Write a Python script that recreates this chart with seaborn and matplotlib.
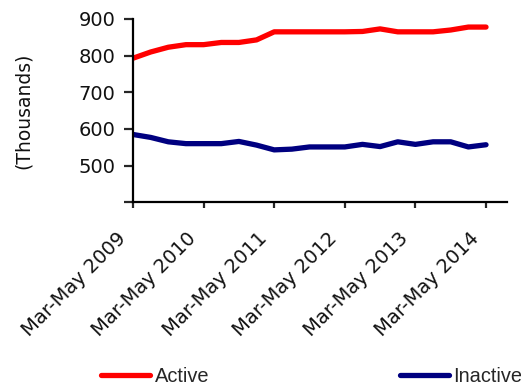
import numpy as np
import pandas as pd
import matplotlib
matplotlib.use("Agg")
import matplotlib.pyplot as plt
import matplotlib.transforms as mtransforms
import seaborn as sns

# Rolling quarters, Mar-May 2009 to Mar-May 2014 (thousands)
periods = [
    "Mar-May 2009", "Jun-Aug 2009", "Sep-Nov 2009", "Dec-Feb 2010",
    "Mar-May 2010", "Jun-Aug 2010", "Sep-Nov 2010", "Dec-Feb 2011",
    "Mar-May 2011", "Jun-Aug 2011", "Sep-Nov 2011", "Dec-Feb 2012",
    "Mar-May 2012", "Jun-Aug 2012", "Sep-Nov 2012", "Dec-Feb 2013",
    "Mar-May 2013", "Jun-Aug 2013", "Sep-Nov 2013", "Dec-Feb 2014",
    "Mar-May 2014",
]
active = [793, 810, 823, 830, 830, 836, 836, 843, 865, 865, 865, 865,
          865, 866, 873, 865, 865, 865, 870, 878, 878]
inactive = [585, 577, 565, 560, 560, 560, 566, 556, 543, 545, 551, 551,
            551, 558, 552, 565, 558, 565, 565, 551, 557]
tick_labels = ["Mar-May 2009", "Mar-May 2010", "Mar-May 2011",
               "Mar-May 2012", "Mar-May 2013", "Mar-May 2014"]
y_ticks = [400, 500, 600, 700, 800, 900]
y_tick_labels = ["", "500", "600", "700", "800", "900"]

sns.set_style("white")
plt.rcParams["font.family"] = ["DejaVu Sans"]

idx = np.arange(len(periods))
df = pd.DataFrame({
    "pos": np.concatenate([idx, idx]),
    "value": active + inactive,
    "status": ["Active"] * len(periods) + ["Inactive"] * len(periods),
})

fig = plt.figure(figsize=(5.21, 3.85), dpi=100)
ax = fig.add_axes([133 / 521, 1 - 202.3 / 385, 373.5 / 521, 183.3 / 385])

sns.lineplot(data=df, x="pos", y="value", hue="status",
             palette={"Active": "#FF0000", "Inactive": "#000080"},
             linewidth=3.8, ax=ax, legend=False)

ax.set_xlim(0, 21.16)
ax.set_ylim(400, 900)

for side in ["top", "right"]:
    ax.spines[side].set_visible(False)
for side in ["left", "bottom"]:
    ax.spines[side].set_linewidth(1.6)
    ax.spines[side].set_color("black")
ax.tick_params(axis="y", direction="out", length=6.5, width=1.6, pad=6,
               left=True)
ax.tick_params(axis="x", direction="out", length=4.5, width=1.6, pad=3.5,
               bottom=True)

ax.set_yticks(y_ticks)
ax.set_yticklabels(y_tick_labels, fontsize=14, color="#111111")
tick_pos = [periods.index(t) for t in tick_labels]
ax.set_xticks(tick_pos)
ax.set_xticklabels(tick_labels, fontsize=14, color="#111111",
                   rotation=45, ha="right", va="top", rotation_mode="anchor")
shift = mtransforms.ScaledTranslation(-0.17, -0.15, fig.dpi_scale_trans)
for lab in ax.get_xticklabels():
    lab.set_transform(lab.get_transform() + shift)

ax.set_xlabel("")
ax.set_ylabel("(Thousands)", fontsize=13.5, color="#111111")
ax.yaxis.set_label_coords(-0.268, 0.5)

handles = [plt.Line2D([], [], color="#FF0000", linewidth=3.8,
                      solid_capstyle="round"),
           plt.Line2D([], [], color="#000080", linewidth=3.8,
                      solid_capstyle="round")]
fig.legend(handles, ["Active", "Inactive"], ncol=2, frameon=False,
           loc="center left", bbox_to_anchor=(101 / 521, 8.5 / 385),
           borderpad=0, borderaxespad=0, handlelength=2.45,
           handletextpad=0.25, columnspacing=9.5,
           prop={"family": "Liberation Sans", "size": 14.4})

fig.savefig("out.png", dpi=100, facecolor="white")
